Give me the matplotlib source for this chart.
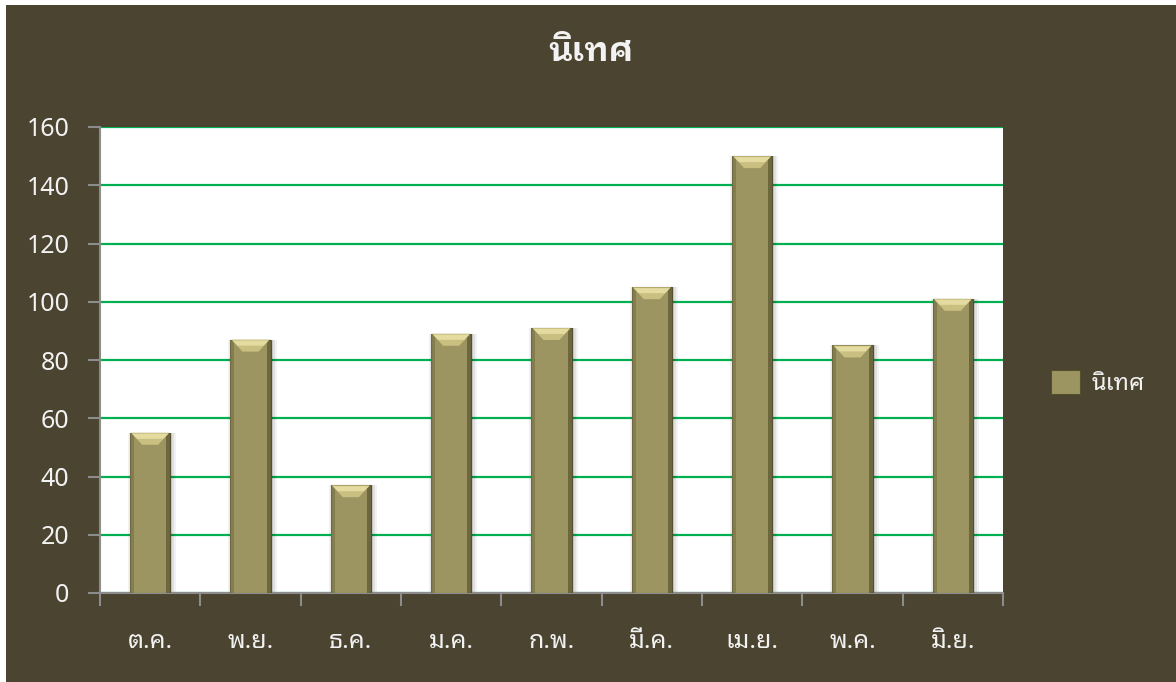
import matplotlib
matplotlib.use("Agg")
import matplotlib.pyplot as plt
from matplotlib.patches import Rectangle, Polygon
from matplotlib import transforms

# data
months = ['ต.ค.', 'พ.ย.', 'ธ.ค.', 'ม.ค.', 'ก.พ.', 'มี.ค.', 'เม.ย.', 'พ.ค.', 'มิ.ย.']
values = [55, 87, 37, 89, 91, 105, 150, 85, 101]
yticks = [0, 20, 40, 60, 80, 100, 120, 140, 160]
series_name = 'นิเทศ'
title = 'นิเทศ'

BG = '#4A4430'
BAR = '#9C9461'
BAR_EDGE = '#55502E'
GRID = '#00B050'
AXIS = '#8C8C8C'
TXT = '#F2F2F2'
FONT = ['Noto Sans Thai Looped', 'DejaVu Sans']
TITLE_FONT = ['IBM Plex Sans Thai Looped', 'Noto Sans Thai Looped', 'DejaVu Sans']

plt.rcParams['font.family'] = FONT

W, H, DPI = 1176, 682, 100
fig = plt.figure(figsize=(W / DPI, H / DPI), dpi=DPI, facecolor='white')
fig.patches.append(Rectangle((6 / W, 0), 1, 1 - 5 / H, transform=fig.transFigure,
                             facecolor=BG, edgecolor='none', zorder=-10))

ax = fig.add_axes([100 / W, 1 - 593 / H, 903 / W, 466 / H])
ax.set_facecolor('white')
ax.set_xlim(-0.5, len(months) - 0.5)
ax.set_ylim(0, 160)

x = list(range(len(months)))

# soft shadow around each bar (mostly to the right)
for xi, v in zip(x, values):
    for k, a in enumerate([0.10, 0.07, 0.05]):
        ax.add_patch(Rectangle((xi - 0.2, 0), 0.4, v, transform=transforms.offset_copy(
            ax.transData, fig=fig, x=2 + k * 2, y=0, units='dots'),
            facecolor='#000000', alpha=a, edgecolor='none', zorder=2))
    ax.add_patch(Rectangle((xi - 0.2, 0), 0.4, v, transform=transforms.offset_copy(
        ax.transData, fig=fig, x=-2, y=0, units='dots'),
        facecolor='#000000', alpha=0.05, edgecolor='none', zorder=2))

bars = ax.bar(x, values, width=0.4, color=BAR, edgecolor=BAR_EDGE, linewidth=0.8,
              zorder=3, label=series_name)


def bevel(axis, rect, d=12):
    # bevel on top of a bar, built in pixel space from the bar geometry
    inv = axis.transData.inverted()
    x0, y0 = axis.transData.transform((rect.get_x(), rect.get_height()))
    x1, _ = axis.transData.transform((rect.get_x() + rect.get_width(), rect.get_height()))
    yb = axis.transData.transform((0, 0))[1]
    for sx, col in [(x0, '#7A7448'), (x1 - 4, '#5A5533')]:
        axis.add_patch(Polygon(inv.transform([(sx, yb), (sx + 4, yb), (sx + 4, y0), (sx, y0)]),
                               closed=True, facecolor=col, edgecolor='none', alpha=0.7, zorder=4))
    top = [(x0 + 1, y0), (x1 - 1, y0), (x1 - d, y0 - d), (x0 + d, y0 - d)]
    axis.add_patch(Polygon(inv.transform(top), closed=True, facecolor='#C9BF80',
                           edgecolor='none', zorder=4))
    hi = [(x0 + 2, y0 - 1), (x1 - 2, y0 - 1), (x1 - 7, y0 - 6), (x0 + 7, y0 - 6)]
    axis.add_patch(Polygon(inv.transform(hi), closed=True, facecolor='#E4DBA0',
                           edgecolor='none', zorder=4))


for b in bars:
    bevel(ax, b)

ax.set_yticks(yticks)
ax.yaxis.grid(True, color=GRID, linewidth=1.6, zorder=1)
ax.set_axisbelow(True)
ax.set_xticks([i - 0.5 for i in range(len(months) + 1)], minor=False)
ax.set_xticklabels([])
ax.set_xticks(x, minor=True)
ax.set_xticklabels(months, minor=True)
ax.tick_params(axis='x', which='major', length=9, width=1.5, color=AXIS, direction='out')
ax.tick_params(axis='x', which='minor', length=0, pad=26, labelsize=18, labelcolor=TXT)
ax.tick_params(axis='y', length=9, width=1.5, color=AXIS, pad=13, labelsize=18, labelcolor=TXT)

for s in ['top', 'right']:
    ax.spines[s].set_visible(False)
for s in ['left', 'bottom']:
    ax.spines[s].set_color(AXIS)
    ax.spines[s].set_linewidth(1.5)

fig.text(591 / W, 1 - 52 / H, title, ha='center', va='center', fontsize=24,
         fontweight='bold', color=TXT, family=TITLE_FONT)

leg = fig.legend(handles=[bars], labels=[series_name], loc='center left',
                 bbox_to_anchor=(1030 / W, 1 - 383 / H), frameon=False, fontsize=17,
                 labelcolor=TXT, handlelength=1.2, handleheight=1.2, handletextpad=0.5)

fig.savefig('out.png', dpi=DPI, facecolor=fig.get_facecolor())
